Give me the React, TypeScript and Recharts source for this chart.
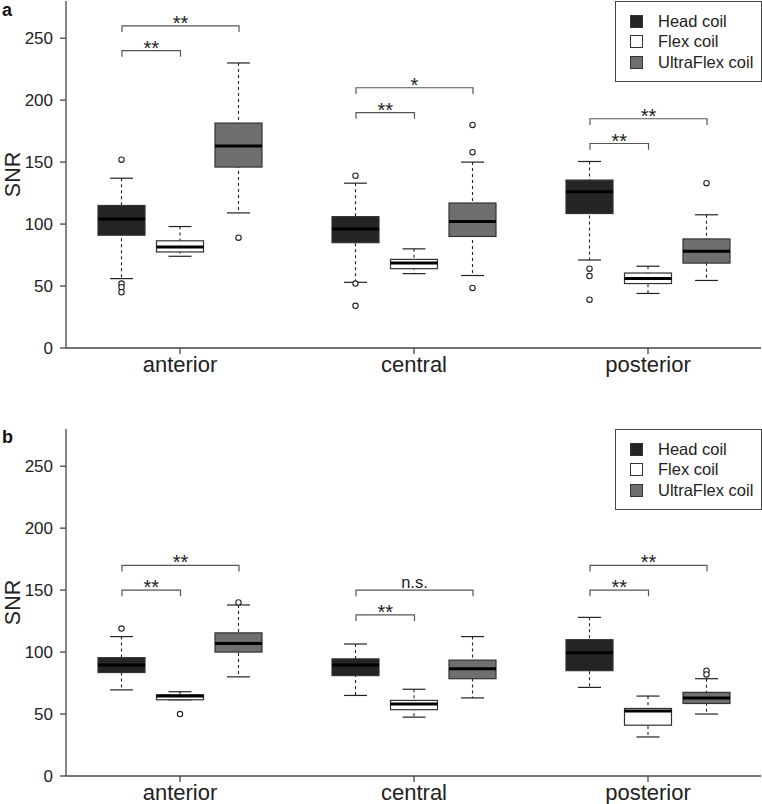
import { ComposedChart, Bar, XAxis, YAxis, Legend } from 'recharts';

const FONT = '"Liberation Sans", Arial, Helvetica, sans-serif';
const BAR = 47;
const GAP = 11.5;
const STEP = BAR + GAP;
const INK = '#222';
const FRAME = '#444';

const regions = ['anterior', 'central', 'posterior'];
const coils = ['Head coil', 'Flex coil', 'UltraFlex coil'];
const coilFills = ['#242424', '#ffffff', '#6f6f6f'];
const yTicks = [0, 50, 100, 150, 200, 250];

// [lower whisker, Q1, median, Q3, upper whisker] per region
const aHead = [[56, 91, 104, 115, 137], [53, 85, 96, 106, 133], [71, 108.5, 126, 135.5, 150.5]];
const aFlex = [[74, 77.5, 81.5, 86.5, 98], [60, 64, 68.5, 71.5, 80], [44, 52, 56, 60.5, 66]];
const aUltra = [[109, 146, 163, 181.5, 230], [58.5, 90, 102, 117, 150], [54.5, 68.5, 78, 88, 107.5]];
const aHeadOut = [[152, 52, 49, 45], [139, 52, 34], [64, 58, 39]];
const aFlexOut = [[], [], []];
const aUltraOut = [[89], [180, 158, 48.5], [133]];
const aNear = [240, 190, 165];
const aFar = [260, 210, 185];
const aNearLabel = ['**', '**', '**'];
const aFarLabel = ['**', '*', '**'];

const bHead = [[69.5, 83.5, 89.5, 95.5, 112.5], [65, 81, 89.5, 94.5, 106.5], [71.5, 85, 99.5, 110, 128]];
const bFlex = [[61.5, 61.5, 64.5, 65.5, 68], [47.5, 53.5, 58, 61, 70], [31.5, 41, 52.5, 54.5, 64.5]];
const bUltra = [[80, 100, 107, 115.5, 138], [63, 78.5, 86.5, 93.5, 112.5], [50, 58.5, 63, 67.5, 78.5]];
const bHeadOut = [[119], [], []];
const bFlexOut = [[50], [], []];
const bUltraOut = [[140], [], [85, 82]];
const bNear = [150, 130, 150];
const bFar = [170, 150, 170];
const bNearLabel = ['**', '**', '**'];
const bFarLabel = ['**', 'n.s.', '**'];

function buildRows(stats, outs, near, far, nearLabel, farLabel) {
  return regions.map((region, i) => ({
    region,
    stats: stats.map((s) => s[i]),
    out: outs.map((o) => o[i]),
    near: near[i],
    far: far[i],
    nearLabel: nearLabel[i],
    farLabel: farLabel[i],
  }));
}

const panelA = buildRows([aHead, aFlex, aUltra], [aHeadOut, aFlexOut, aUltraOut], aNear, aFar, aNearLabel, aFarLabel);
const panelB = buildRows([bHead, bFlex, bUltra], [bHeadOut, bFlexOut, bUltraOut], bNear, bFar, bNearLabel, bFarLabel);

// whisker bar spans [lo, hi]; other values mapped with the same pixel scale
const whiskerShape = (k: number) => (p: any) => {
  const { x, y, width, height, payload } = p;
  const [lo, , , , hi] = payload.stats[k];
  const s = height / (hi - lo);
  const toY = (v: number) => y + (hi - v) * s;
  const cx = x + width / 2;
  return (
    <g>
      <line x1={cx} x2={cx} y1={toY(hi)} y2={toY(lo)} stroke={INK} strokeWidth={1.1} strokeDasharray="3 3" />
      <line x1={cx - 11.5} x2={cx + 11.5} y1={toY(hi)} y2={toY(hi)} stroke={INK} strokeWidth={1.2} />
      <line x1={cx - 11.5} x2={cx + 11.5} y1={toY(lo)} y2={toY(lo)} stroke={INK} strokeWidth={1.2} />
      {payload.out[k].map((v: number, j: number) => (
        <circle key={j} cx={cx} cy={toY(v)} r={2.7} fill="#fff" stroke={INK} strokeWidth={1.1} />
      ))}
    </g>
  );
};

const boxShape = (k: number) => (p: any) => {
  const { x, y, width, height, payload } = p;
  const [, q1, med, q3] = payload.stats[k];
  const my = q3 === q1 ? y : y + ((q3 - med) / (q3 - q1)) * height;
  return (
    <g>
      <rect x={x} y={y} width={width} height={height} fill={coilFills[k]} stroke="#333" strokeWidth={1.2} />
      <line x1={x} x2={x + width} y1={my} y2={my} stroke="#000" strokeWidth={3} />
    </g>
  );
};

function sigText(label: string, x: number, lineY: number) {
  const star = label.includes('*');
  return (
    <text x={x} y={star ? lineY + 4 : lineY - 2.5} textAnchor="middle" fontSize={star ? 20 : 16.5} fill={INK} fontFamily={FONT}>
      {label}
    </text>
  );
}

// bracket bar spans [near - 5, far], centred on the Flex coil slot
const bracketShape = (p: any) => {
  const { x, y, width, height, payload } = p;
  const { near, far } = payload;
  const s = height / (far - near + 5);
  const toY = (v: number) => y + (far - v) * s;
  const cx = x + width / 2;
  const hx = cx - STEP;
  const ux = cx + STEP;
  return (
    <g fill="none" stroke="#555" strokeWidth={1.2}>
      <path d={`M${hx},${toY(near - 5)}V${toY(near)}H${cx}V${toY(near - 5)}`} />
      <path d={`M${hx},${toY(far - 5)}V${toY(far)}H${ux}V${toY(far - 5)}`} />
      <g stroke="none">
        {sigText(payload.nearLabel, (hx + cx) / 2, toY(near))}
        {sigText(payload.farLabel, cx, toY(far))}
      </g>
    </g>
  );
};

function CoilLegend() {
  return (
    <div
      style={{
        width: 147,
        height: 81,
        boxSizing: 'border-box',
        border: `1.3px solid ${FRAME}`,
        background: '#fff',
        paddingTop: 10,
        fontFamily: FONT,
        fontSize: 16.5,
        color: INK,
      }}
    >
      {coils.map((c, i) => (
        <div key={c} style={{ display: 'flex', alignItems: 'center', height: 20.3, paddingLeft: 14 }}>
          <span
            style={{
              display: 'inline-block',
              width: 13,
              height: 13,
              boxSizing: 'border-box',
              border: '1px solid #333',
              background: coilFills[i],
              marginRight: 15,
            }}
          />
          {c}
        </div>
      ))}
    </div>
  );
}

const xPad = { left: -3, right: -4 };

function Panel({ rows, letter, top, height, marginTop, letterTop }) {
  const plotH = 347;
  const xH = height - marginTop - plotH;
  return (
    <div style={{ position: 'absolute', left: 0, top, width: 762, height }}>
      <ComposedChart
        width={762}
        height={height}
        data={rows}
        margin={{ top: marginTop, right: 1, bottom: 0, left: 0 }}
        barSize={BAR}
        barGap={GAP}
      >
        <XAxis xAxisId="w" dataKey="region" hide padding={xPad} />
        <XAxis xAxisId="k" dataKey="region" hide padding={xPad} />
        <XAxis
          xAxisId="b"
          dataKey="region"
          padding={xPad}
          height={xH}
          tickSize={6}
          tickMargin={2}
          tick={{ fontSize: 22, fill: INK, fontFamily: FONT }}
          tickLine={{ stroke: FRAME, strokeWidth: 1.3 }}
          axisLine={{ stroke: FRAME, strokeWidth: 1.3 }}
        />
        <XAxis xAxisId="t" dataKey="region" orientation="top" height={0} tick={false} tickLine={false} axisLine={{ stroke: FRAME, strokeWidth: 1.3 }} />
        <YAxis
          domain={[0, 280]}
          ticks={yTicks}
          width={66}
          tickSize={6}
          tickMargin={7}
          tick={{ fontSize: 17, fill: INK, fontFamily: FONT }}
          tickLine={{ stroke: FRAME, strokeWidth: 1.3 }}
          axisLine={{ stroke: FRAME, strokeWidth: 1.3 }}
          label={(lp: any) => {
            const vb = lp.viewBox;
            const cy = vb.y + vb.height / 2;
            return (
              <text x={20} y={cy} transform={`rotate(-90 20 ${cy})`} textAnchor="middle" fontSize={21.5} fill={INK} fontFamily={FONT}>
                SNR
              </text>
            );
          }}
        />
        <YAxis yAxisId="r" orientation="right" width={0} domain={[0, 280]} tick={false} tickLine={false} axisLine={{ stroke: FRAME, strokeWidth: 1.3 }} />
        {coils.map((c, k) => (
          <Bar
            key={`w${k}`}
            xAxisId="w"
            name={c}
            dataKey={(d: any) => [d.stats[k][0], d.stats[k][4]]}
            shape={whiskerShape(k)}
            isAnimationActive={false}
            legendType="none"
          />
        ))}
        {coils.map((c, k) => (
          <Bar
            key={`b${k}`}
            xAxisId="b"
            name={c}
            dataKey={(d: any) => [d.stats[k][1], d.stats[k][3]]}
            shape={boxShape(k)}
            isAnimationActive={false}
          />
        ))}
        <Bar xAxisId="k" dataKey={(d: any) => [d.near - 5, d.far]} shape={bracketShape} isAnimationActive={false} legendType="none" />
        <Legend
          content={() => <CoilLegend />}
          layout="horizontal"
          align="center"
          verticalAlign="middle"
          wrapperStyle={{ left: 615, top: marginTop - 0.5, width: 147, height: 81 }}
        />
      </ComposedChart>
      <div
        style={{
          position: 'absolute',
          left: 2,
          top: letterTop,
          fontFamily: FONT,
          fontWeight: 'bold',
          fontSize: 18,
          lineHeight: '20px',
          color: '#111',
        }}
      >
        {letter}
      </div>
    </div>
  );
}

export default function App() {
  return (
    <div style={{ position: 'absolute', left: 0, top: 0, width: 762, height: 804, background: '#fff', overflow: 'hidden' }}>
      <Panel rows={panelA} letter="a" top={0} height={400} marginTop={1} letterTop={0} />
      <Panel rows={panelB} letter="b" top={402} height={402} marginTop={27} letterTop={25} />
    </div>
  );
}
